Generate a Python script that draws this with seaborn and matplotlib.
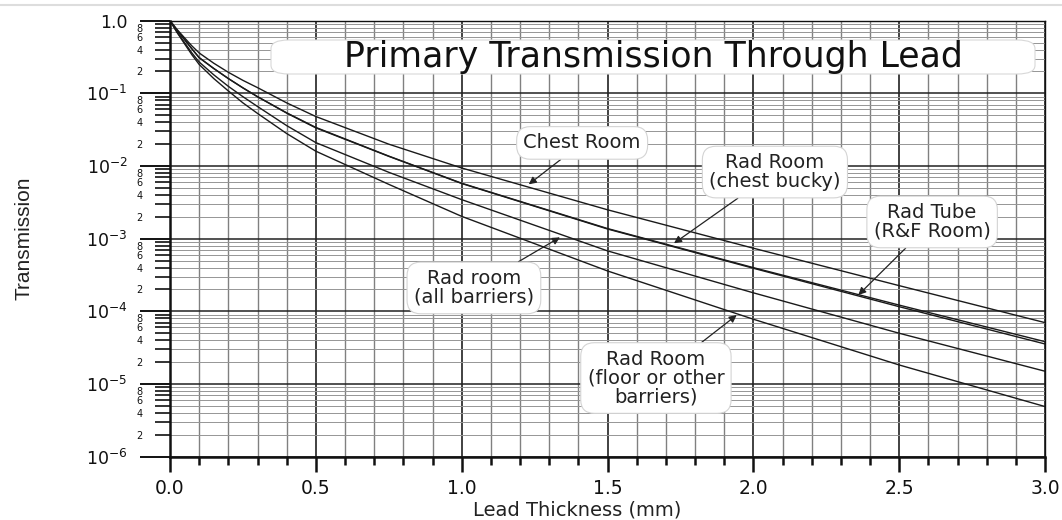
import matplotlib
matplotlib.use("Agg")
import numpy as np
import pandas as pd
import seaborn as sns
import matplotlib.pyplot as plt
from matplotlib.ticker import FixedLocator, FuncFormatter
from matplotlib.patches import FancyBboxPatch
from matplotlib.lines import Line2D

# ---- data ----
thickness_mm = [0.0, 0.025, 0.05, 0.075, 0.1, 0.15, 0.2, 0.25, 0.3, 0.4, 0.5, 0.75,
                1.0, 1.5, 2.0, 2.5, 3.0]
chest_room = [1.0, 0.75, 0.58, 0.45, 0.36, 0.26, 0.195, 0.151, 0.12, 0.074, 0.048, 0.020,
              9.4e-3, 2.5e-3, 7.4e-4, 2.26e-4, 7.0e-5]
rad_room_chest_bucky = [1.0, 0.73, 0.55, 0.41, 0.31, 0.22, 0.16, 0.119, 0.09, 0.054, 0.034, 0.0137,
                        5.8e-3, 1.38e-3, 4.0e-4, 1.22e-4, 3.83e-5]
rad_tube_rf_room = [1.0, 0.73, 0.55, 0.41, 0.31, 0.22, 0.16, 0.119, 0.09, 0.0535, 0.0335, 0.0136,
                    5.75e-3, 1.36e-3, 3.92e-4, 1.16e-4, 3.56e-5]
rad_room_all_barriers = [1.0, 0.69, 0.50, 0.36, 0.27, 0.18, 0.125, 0.09, 0.066, 0.036, 0.021, 8.2e-3,
                         3.45e-3, 6.8e-4, 1.8e-4, 5.0e-5, 1.5e-5]
rad_room_floor_other = [1.0, 0.68, 0.48, 0.34, 0.25, 0.16, 0.108, 0.074, 0.053, 0.028, 0.016, 5.6e-3,
                        2.03e-3, 3.6e-4, 7.8e-5, 1.83e-5, 4.9e-6]

series = {
    "Chest Room": chest_room,
    "Rad Room (chest bucky)": rad_room_chest_bucky,
    "Rad Tube (R&F Room)": rad_tube_rf_room,
    "Rad room (all barriers)": rad_room_all_barriers,
    "Rad Room (floor or other barriers)": rad_room_floor_other,
}

rows = []
for name, vals in series.items():
    for x, y in zip(thickness_mm, vals):
        rows.append({"thickness": x, "transmission": y, "curve": name})
df = pd.DataFrame(rows)

sns.set_theme(style="white")
plt.rcParams["font.family"] = ["DejaVu Sans"]
plt.rcParams["mathtext.fontset"] = "dejavusans"

W, H = 1062, 520
fig = plt.figure(figsize=(W / 100, H / 100), dpi=100)
fig.patch.set_facecolor("white")
L, R, T, B = 170, 1045, 20.7, 456.7
ax = fig.add_axes([L / W, 1 - B / H, (R - L) / W, (B - T) / H])

sns.lineplot(data=df, x="thickness", y="transmission", hue="curve",
             palette={k: "#1a1a1a" for k in series}, legend=False,
             estimator=None, linewidth=1.0, ax=ax)

ax.set_yscale("log")
ax.set_xlim(0, 3.0)
ax.set_ylim(1e-6, 1.0)

# x ticks
ax.xaxis.set_major_locator(FixedLocator(np.arange(0, 3.01, 0.5)))
ax.xaxis.set_minor_locator(FixedLocator(np.arange(0, 3.01, 0.1)))
ax.xaxis.set_major_formatter(FuncFormatter(lambda v, p: f"{v:.1f}"))

# y ticks
ax.yaxis.set_major_locator(FixedLocator([10.0 ** e for e in range(-6, 1)]))
ax.yaxis.set_minor_locator(FixedLocator([m * 10.0 ** e for e in range(-6, 0) for m in range(2, 10)]))

def major_fmt(v, p):
    e = int(round(np.log10(v)))
    return "1.0" if e == 0 else r"$10^{%d}$" % e

def minor_fmt(v, p):
    e = np.floor(np.log10(v) + 1e-9)
    m = int(round(v / 10.0 ** e))
    return str(m) if m in (2, 4, 6, 8) else ""

ax.yaxis.set_major_formatter(FuncFormatter(major_fmt))
ax.yaxis.set_minor_formatter(FuncFormatter(minor_fmt))

ax.tick_params(axis="y", which="major", direction="out", length=21.6, width=1.4,
               pad=9, labelsize=12.5, colors="#111")
ax.tick_params(axis="y", which="minor", direction="out", length=10.8, width=1.2,
               pad=9, labelsize=7, colors="#111")
ax.tick_params(axis="x", which="major", direction="out", length=10.8, width=1.8,
               pad=5, labelsize=13.5, colors="#111")
ax.tick_params(axis="x", which="minor", direction="out", length=5.8, width=1.8,
               colors="#111")
ax.tick_params(axis="both", which="both", left=True, bottom=True)

# grid
ax.set_axisbelow(True)
ax.grid(True, which="major", axis="x", color="#333333", linewidth=1.3)
ax.grid(True, which="minor", axis="x", color="#808080", linewidth=1.0)
ax.grid(True, which="major", axis="y", color="#222222", linewidth=1.1)
ax.grid(True, which="minor", axis="y", color="#959595", linewidth=0.7)

for side, sp in ax.spines.items():
    sp.set_visible(True)
    sp.set_color("#111")
    sp.set_linewidth(1.8 if side in ("left", "bottom") else 1.0)

ax.set_xlabel("Lead Thickness (mm)", fontsize=14, color="#222")
ax.xaxis.set_label_coords((577 - L) / (R - L), (B - 501) / (B - T))
ax.set_ylabel("Transmission", fontsize=15, color="#222",
              family=["Liberation Sans Narrow", "Liberation Sans", "DejaVu Sans"])
ax.yaxis.set_label_coords((34 - L) / (R - L), 0.5)

# title box
bx0, bx1, by0, by1 = 271, 1035, 40, 74
ax.add_patch(FancyBboxPatch(((bx0 - L) / (R - L), (B - by1) / (B - T)),
                            (bx1 - bx0) / (R - L), (by1 - by0) / (B - T),
                            boxstyle="round,pad=0,rounding_size=0.02",
                            transform=ax.transAxes, fc="white", ec="#d8d8d8",
                            lw=0.8, zorder=5))
ax.text(((bx0 + bx1) / 2 - L) / (R - L), (B - (by0 + by1) / 2) / (B - T),
        "Primary Transmission Through Lead", transform=ax.transAxes,
        ha="center", va="center", fontsize=25, color="#111", zorder=6)

# annotations
bbox = dict(boxstyle="round,pad=0.35,rounding_size=0.7", fc="white", ec="#d4d4d4", lw=0.8)
arrow = dict(arrowstyle="-|>", color="#222", lw=0.9, mutation_scale=11, shrinkA=0, shrinkB=0)
notes = [
    ("Chest Room", (1.23, 5.6e-3), (1.413, 0.0208)),
    ("Rad Room\n(chest bucky)", (1.728, 8.65e-4), (2.074, 8.26e-3)),
    ("Rad Tube\n(R&F Room)", (2.36, 1.68e-4), (2.613, 1.7e-3)),
    ("Rad room\n(all barriers)", (1.337, 1.045e-3), (1.042, 2.1e-4)),
    ("Rad Room\n(floor or other\nbarriers)", (1.943, 8.9e-5), (1.666, 1.21e-5)),
]
for text, tip, pos in notes:
    ax.annotate(text, xy=tip, xytext=pos, ha="center", va="center",
                fontsize=14, color="#222", bbox=bbox, arrowprops=arrow,
                linespacing=1.0, zorder=7)

fig.add_artist(Line2D([0, 1], [1 - 4.5 / H, 1 - 4.5 / H], transform=fig.transFigure,
                      color="#dddddd", lw=1.5))

fig.savefig("out.png", dpi=100, facecolor="white")
